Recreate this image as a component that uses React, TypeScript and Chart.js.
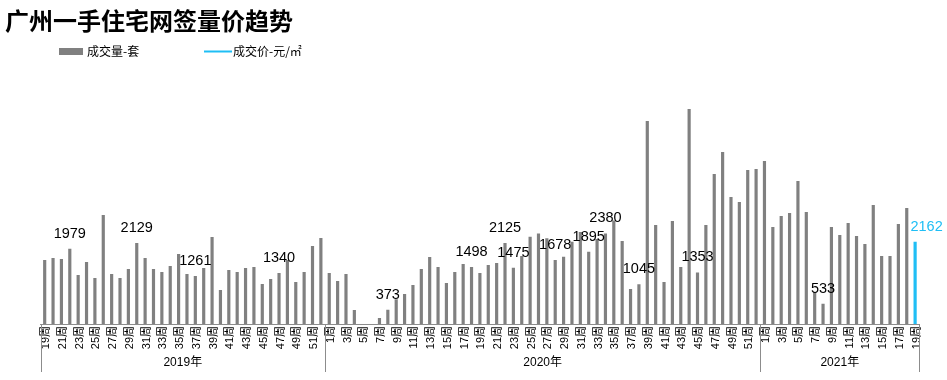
import { useEffect, useRef } from 'react';
import { Chart, registerables } from 'chart.js';

Chart.register(...registerables);

// ---- text ----
const chartTitle = '广州一手住宅网签量价趋势';
const volumeSeriesName = '成交量-套';
const priceSeriesName = '成交价-元/㎡';
const yearLabels = ['2019年', '2020年', '2021年'];

// ---- categories (week numbers per year) ----
const weeks2019 = Array.from({ length: 34 }, (_, i) => 19 + i); // 19..52
const weeks2020 = Array.from({ length: 52 }, (_, i) => 1 + i); // 1..52
const weeks2021 = Array.from({ length: 19 }, (_, i) => 1 + i); // 1..19

// ---- series values: weekly transaction volume (套) ----
const sales2019 = [
  1680, 1735, 1710, 1979, 1290, 1630, 1210, 2865, 1315, 1210, 1445, 2129, 1735, 1445, 1365, 1525, 1840,
  1315, 1261, 1470, 2285, 895, 1420, 1365, 1470, 1500, 1050, 1180, 1340, 1680, 1105, 1365, 2050, 2260,
];
const sales2020 = [
  1340, 1130, 1315, 370, 0, 0, 160, 373, 650, 790, 1025, 1445, 1760, 1500, 1075, 1365, 1575, 1498, 1340,
  1550, 1600, 2125, 1475, 1785, 2290, 2375, 2250, 1678, 1765, 2160, 2415, 1895, 2235, 2380, 2720, 2180,
  920, 1045, 5335, 2600, 1105, 2705, 1500, 5650, 1353, 2600, 3940, 4520, 3335, 3205, 4045, 4070,
];
const sales2021 = [
  4280, 2550, 2835, 2915, 3755, 2940, 840, 533, 2550, 2340, 2655, 2310, 2100, 3125, 1785, 1785, 2625, 3045,
  2162,
];
// price series is listed in the legend but not drawn in the picture
const price2019: (number | null)[] = weeks2019.map(() => null);
const price2020: (number | null)[] = weeks2020.map(() => null);
const price2021: (number | null)[] = weeks2021.map(() => null);

// weeks that carry a value label
const labeledWeeks2019 = [22, 30, 37, 47];
const labeledWeeks2020 = [8, 18, 22, 23, 28, 32, 34, 38, 45];
const labeledWeeks2021 = [8, 19];

const yMax = 6000;

// ---- derived ----
const weekLabels = [...weeks2019, ...weeks2020, ...weeks2021].map((w) => `${w}周`);
const volumes = [...sales2019, ...sales2020, ...sales2021];
const prices = [...price2019, ...price2020, ...price2021];
const off2020 = weeks2019.length;
const off2021 = weeks2019.length + weeks2020.length;
const labeledIndexes = [
  ...labeledWeeks2019.map((w) => weeks2019.indexOf(w)),
  ...labeledWeeks2020.map((w) => off2020 + weeks2020.indexOf(w)),
  ...labeledWeeks2021.map((w) => off2021 + weeks2021.indexOf(w)),
];
const yearGroups: [number, number][] = [
  [0, off2020 - 1],
  [off2020, off2021 - 1],
  [off2021, volumes.length - 1],
];

const GRAY = '#808080';
const CYAN = '#1FBEF5';
const AXIS = '#8c8c8c';
const LATIN = '"Liberation Sans", "Noto Sans CJK SC", sans-serif';
const CJK = '"Noto Sans CJK SC", sans-serif';
const lastIndex = volumes.length - 1;
const barColors = volumes.map((_, i) => (i === lastIndex ? CYAN : GRAY));

const decorPlugin = {
  id: 'decor',
  afterDatasetsDraw(chart: any) {
    const ctx = chart.ctx as CanvasRenderingContext2D;
    const meta = chart.getDatasetMeta(0);
    ctx.save();
    ctx.font = `14.5px ${LATIN}`;
    ctx.textAlign = 'center';
    ctx.textBaseline = 'alphabetic';
    labeledIndexes.forEach((i) => {
      const el = meta.data[i];
      if (!el) return;
      const isLast = i === lastIndex;
      ctx.fillStyle = isLast ? CYAN : '#000';
      ctx.fillText(String(volumes[i]), el.x + (isLast ? 11.5 : 0), el.y - 11);
    });
    ctx.restore();
  },
  afterDraw(chart: any) {
    const ctx = chart.ctx as CanvasRenderingContext2D;
    const xs = chart.scales.x;
    const area = chart.chartArea;
    const half = (xs.getPixelForValue(1) - xs.getPixelForValue(0)) / 2;
    ctx.save();
    // group separators
    ctx.strokeStyle = AXIS;
    ctx.lineWidth = 1;
    const bounds = [xs.getPixelForValue(0) - half, ...yearGroups.map((g) => xs.getPixelForValue(g[1]) + half)];
    bounds.forEach((bx) => {
      const x = Math.round(bx) + 0.5;
      ctx.beginPath();
      ctx.moveTo(x, area.bottom);
      ctx.lineTo(x, 372);
      ctx.stroke();
    });
    // year labels
    ctx.fillStyle = '#000';
    ctx.font = `12px ${LATIN}`;
    ctx.textAlign = 'center';
    ctx.textBaseline = 'middle';
    yearGroups.forEach((g, k) => {
      const cx = (xs.getPixelForValue(g[0]) + xs.getPixelForValue(g[1])) / 2;
      ctx.fillText(yearLabels[k], cx, 362.5);
    });
    // legend
    const ds = chart.data.datasets;
    ctx.font = `12px ${CJK}`;
    ctx.textAlign = 'left';
    ctx.fillStyle = ds[0].legendColor;
    ctx.fillRect(59, 48, 24, 7);
    ctx.fillStyle = '#000';
    ctx.fillText(ds[0].label, 87, 51.5);
    ctx.strokeStyle = ds[1].borderColor;
    ctx.lineWidth = 2;
    ctx.beginPath();
    ctx.moveTo(204, 51.5);
    ctx.lineTo(232, 51.5);
    ctx.stroke();
    ctx.fillStyle = '#000';
    ctx.fillText(ds[1].label, 233, 51.5);
    ctx.restore();
  },
};

export default function App() {
  const canvasRef = useRef<HTMLCanvasElement | null>(null);

  useEffect(() => {
    if (!canvasRef.current) return;
    const chart = new Chart(canvasRef.current, {
      type: 'bar',
      data: {
        labels: weekLabels,
        datasets: [
          {
            type: 'bar',
            label: volumeSeriesName,
            data: volumes,
            backgroundColor: barColors,
            legendColor: GRAY,
            categoryPercentage: 1,
            barPercentage: 0.38,
            yAxisID: 'y',
          } as any,
          {
            type: 'line',
            label: priceSeriesName,
            data: prices,
            borderColor: CYAN,
            backgroundColor: CYAN,
            borderWidth: 2,
            pointRadius: 0,
            yAxisID: 'y1',
          } as any,
        ],
      },
      options: {
        responsive: false,
        animation: false,
        devicePixelRatio: 1,
        layout: { padding: { left: 5, right: 27.7, top: 0, bottom: 0 } },
        plugins: {
          legend: { display: false },
          tooltip: { enabled: false },
          title: {
            display: true,
            text: chartTitle,
            align: 'start',
            color: '#000',
            font: { family: CJK, size: 24, weight: 'bold' },
            padding: { top: 6.6, bottom: 60.2 },
          },
        },
        scales: {
          x: {
            type: 'category',
            offset: true,
            grid: { display: false, drawTicks: false },
            border: { display: true, color: AXIS, width: 1 },
            ticks: {
              autoSkip: false,
              minRotation: 90,
              maxRotation: 90,
              padding: 2,
              labelOffset: 1.5,
              color: '#000',
              font: { family: LATIN, size: 11 },
              callback: (_v: any, i: number) => (i % 2 === 0 ? weekLabels[i] : ''),
            },
            afterFit: (s: any) => {
              s.height = 56;
            },
          },
          y: {
            min: 0,
            max: yMax,
            display: true,
            grid: { display: false },
            border: { display: false },
            ticks: { display: false },
            afterFit: (s: any) => {
              s.width = 35.5;
            },
          },
          y1: { display: false, position: 'right', min: 0, max: 60000 },
        },
      } as any,
      plugins: [decorPlugin],
    });
    return () => chart.destroy();
  }, []);

  return (
    <div style={{ position: 'absolute', left: 0, top: 0, width: 947, height: 380, background: '#fff' }}>
      <canvas ref={canvasRef} width={947} height={380} style={{ display: 'block' }} />
    </div>
  );
}
